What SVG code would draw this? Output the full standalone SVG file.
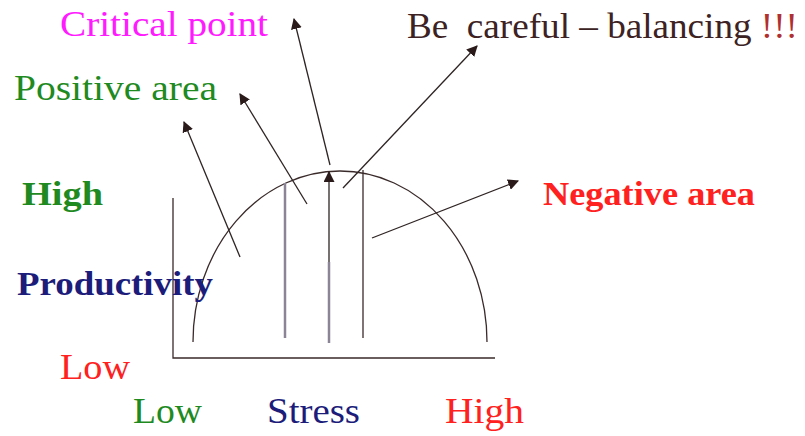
<svg xmlns="http://www.w3.org/2000/svg" width="805" height="436" viewBox="0 0 805 436">
<defs>
<marker id="ah" viewBox="0 0 10 10" refX="9" refY="5" markerWidth="11" markerHeight="11" markerUnits="userSpaceOnUse" orient="auto">
<path d="M0,0 L10,5 L0,10 Z" fill="#2a1a1a"/>
</marker>
<style>
text{font-family:'Liberation Serif','Times New Roman',serif;font-size:35px;}
.b{font-weight:bold;font-size:33px;}
.ln{stroke:#3a2a2a;stroke-width:1.3;fill:none;}
.gl{stroke:#8a8494;stroke-width:2.5;fill:none;}
.ar{stroke:#2f2424;stroke-width:1.3;fill:none;marker-end:url(#ah);}
</style>
</defs>
<rect width="805" height="436" fill="#ffffff"/>
<g id="chart">
<path class="ln" d="M173,198 L173,358 L495,358" stroke-width="2"/>
<path class="ln" d="M193,342 A147,171 0 0 1 487,342"/>
</g>
<g id="bars">
<line class="gl" x1="285" y1="183" x2="285" y2="338"/>
<line class="gl" x1="329" y1="343" x2="329" y2="262"/>
<line class="ln" x1="363" y1="170" x2="363" y2="338"/>
</g>
<g id="connectors">
<line class="ar" x1="329" y1="262" x2="329" y2="172"/>
<line class="ar" x1="240" y1="257" x2="184" y2="122"/>
<line class="ar" x1="307" y1="204" x2="240" y2="94"/>
<line class="ar" x1="330" y1="165" x2="294" y2="19"/>
<line class="ar" x1="343" y1="188" x2="477" y2="46"/>
<line class="ar" x1="372" y1="238" x2="518" y2="181"/>
</g>
<g id="critical-point"><text x="60" y="36" fill="#ff1aff" textLength="208" lengthAdjust="spacingAndGlyphs">Critical point</text></g>
<g id="positive-area"><text x="14" y="100" fill="#1f8a1f" textLength="203" lengthAdjust="spacingAndGlyphs">Positive area</text></g>
<g id="be-careful"><text x="407" y="38" fill="#3c2222" textLength="391" lengthAdjust="spacingAndGlyphs" xml:space="preserve">Be  careful – balancing <tspan fill="#b03030">!!!</tspan></text></g>
<g id="high-y"><text class="b" x="22" y="205" fill="#1f8a1f" textLength="81" lengthAdjust="spacingAndGlyphs">High</text></g>
<g id="productivity"><text class="b" x="17" y="295" fill="#1c1c7a" textLength="196" lengthAdjust="spacingAndGlyphs">Productivity</text></g>
<g id="low-y"><text x="60" y="379" fill="#ff2020" textLength="70" lengthAdjust="spacingAndGlyphs">Low</text></g>
<g id="low-x"><text x="133" y="423" fill="#1f8a1f" textLength="69" lengthAdjust="spacingAndGlyphs">Low</text></g>
<g id="stress"><text x="267" y="423" fill="#1c1c7a" textLength="93" lengthAdjust="spacingAndGlyphs">Stress</text></g>
<g id="high-x"><text x="445" y="423" fill="#ff2020" textLength="79" lengthAdjust="spacingAndGlyphs">High</text></g>
<g id="negative-area"><text class="b" x="543" y="205" fill="#ff2020" textLength="212" lengthAdjust="spacingAndGlyphs">Negative area</text></g>
</svg>
